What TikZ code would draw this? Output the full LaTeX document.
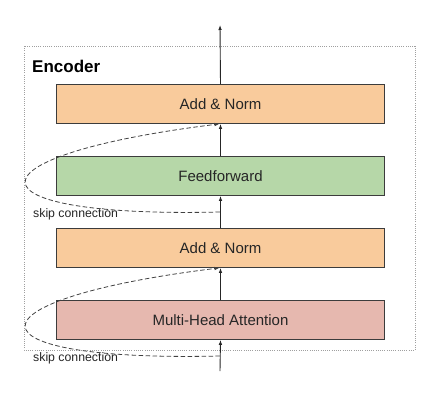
\documentclass[tikz,border=0pt]{standalone}
\usepackage{fontspec}
\setmainfont{Liberation Sans}
\usepackage{tikz}
\usetikzlibrary{arrows.meta}
\definecolor{normorange}{HTML}{F9CB9C}
\definecolor{ffgreen}{HTML}{B6D7A8}
\definecolor{attred}{HTML}{E6B8AF}
\definecolor{edgegray}{HTML}{3C3C3C}
\tikzset{
    layer/.style={draw=edgegray, line width=0.8pt, minimum width=328pt, minimum height=39pt, inner sep=0pt, font=\fontsize{15}{18}\selectfont, text=black!85},
    flow/.style={-{Latex[length=5pt,width=3.6pt]}, line width=0.9pt, black!85},
    skip/.style={-{Latex[length=5pt,width=3.6pt]}, line width=0.8pt, black!75, dash pattern=on 4.5pt off 2.5pt},
    skiplabel/.style={anchor=west, inner sep=0pt, font=\fontsize{12.3}{14}\selectfont, text=black!85}
}

\begin{document}
\begin{tikzpicture}[x=1pt, y=-1pt]
    \useasboundingbox (0,0) rectangle (444,400);
    % encoder frame
    \draw[gray!75, line width=0.6pt, dash pattern=on 0.8pt off 1.4pt] (24,46) rectangle (415,350);
    \node[anchor=west, inner sep=0pt, font=\fontsize{17}{20}\selectfont\bfseries] (enc) at (32,66) {Encoder};
    % layers
    \node[layer, fill=normorange] (addnormtop) at (220.5,104) {Add \& Norm};
    \node[layer, fill=ffgreen] (feedfwd) at (220.5,176) {Feedforward};
    \node[layer, fill=normorange] (addnormlow) at (220.5,248) {Add \& Norm};
    \node[layer, fill=attred] (mha) at (220.5,320) {Multi-Head Attention};
    % main path
    \coordinate (input) at (220,371);
    \coordinate (output) at (220,25);
    \coordinate (skipa) at (220,356);
    \coordinate (skipb) at (220,212);
    \draw[flow] (input) -- (mha.south);
    \draw[flow] (mha.north) -- (addnormlow.south);
    \draw[flow] (addnormlow.north) -- (feedfwd.south);
    \draw[flow] (feedfwd.north) -- (addnormtop.south);
    \draw[flow] (addnormtop.north) -- (output);
    % skip connections
    \draw[skip] (skipa) .. controls (-39,362) and (-39,300) .. ([xshift=-1pt]addnormlow.south);
    \draw[skip] (skipb) .. controls (-39,218) and (-39,156) .. ([xshift=-1pt]addnormtop.south);
    \node[skiplabel] (skipla) at (33,358.5) {skip connection};
    \node[skiplabel] (skiplb) at (33,214.5) {skip connection};
\end{tikzpicture}
\end{document}
